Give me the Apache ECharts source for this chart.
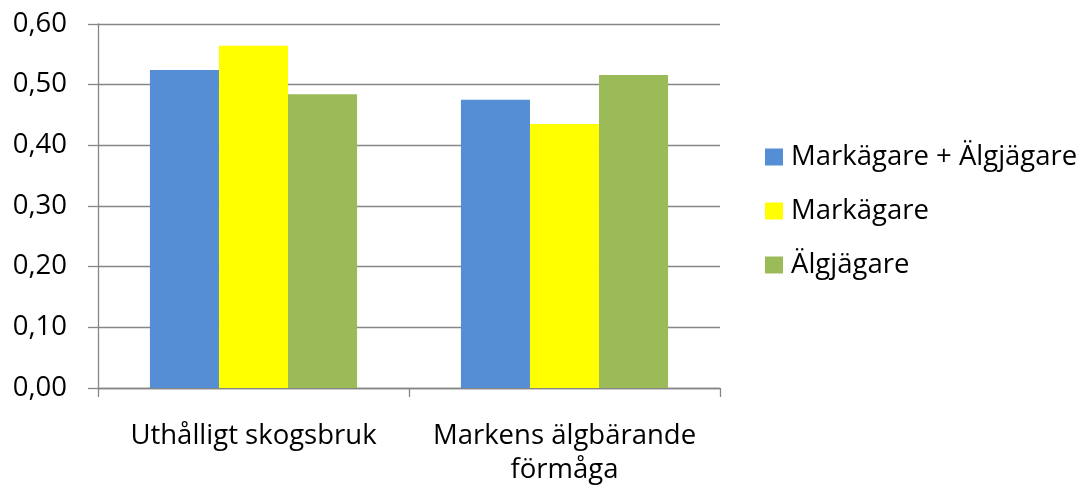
<!DOCTYPE html>
<html><head><meta charset="utf-8">
<script src="https://cdn.jsdelivr.net/npm/echarts@6/dist/echarts.min.js"></script>
<style>html,body{margin:0;padding:0;background:#fff}#c{width:1087px;height:487px}</style>
</head><body><div id="c"></div>
<script>
const categories = ['Uthålligt skogsbruk', 'Markens älgbärande\nförmåga'];
const seriesNames = ['Markägare + Älgjägare', 'Markägare', 'Älgjägare'];
const markagareAlgjagare = [0.524, 0.475];
const markagare = [0.564, 0.435];
const algjagare = [0.484, 0.516];
const colors = ['#558ED5', '#FFFF00', '#9BBB59'];
const font = '"Open Sans", sans-serif';

const chart = echarts.init(document.getElementById('c'));
const values = [markagareAlgjagare, markagare, algjagare];
chart.setOption({
  animation: false,
  textStyle: { fontFamily: font },
  grid: { left: 98, top: 24, right: 367, bottom: 98 },
  legend: {
    orient: 'vertical', left: 765, top: 143, itemGap: 26, padding: 0,
    itemWidth: 18, itemHeight: 17, icon: 'rect',
    textStyle: { fontSize: 27.5, lineHeight: 28, color: '#000', fontFamily: font, padding: [0,0,0,3] },
    data: seriesNames
  },
  xAxis: {
    type: 'category', data: categories,
    axisLine: { lineStyle: { color: '#868686', width: 1.3 } },
    axisTick: { show: true, length: 9, lineStyle: { color: '#868686', width: 1.3 } },
    axisLabel: { interval: 0, fontSize: 27.5, color: '#000', margin: 31, lineHeight: 34, fontFamily: font }
  },
  yAxis: {
    type: 'value', min: 0, max: 0.6, interval: 0.1,
    axisLine: { show: true, lineStyle: { color: '#868686', width: 1.3 } },
    axisTick: { show: true, inside: false, length: 10, lineStyle: { color: '#868686', width: 1.3 } },
    splitLine: { lineStyle: { color: '#868686', width: 1.3 } },
    axisLabel: { fontSize: 27.5, color: '#000', margin: 31, fontFamily: font,
      formatter: v => v.toFixed(2).replace('.', ',') }
  },
  series: seriesNames.map((n, i) => ({
    name: n, type: 'bar', data: values[i],
    barGap: '0%', barCategoryGap: '33.4%',
    itemStyle: { color: colors[i] }
  }))
});
</script></body></html>
